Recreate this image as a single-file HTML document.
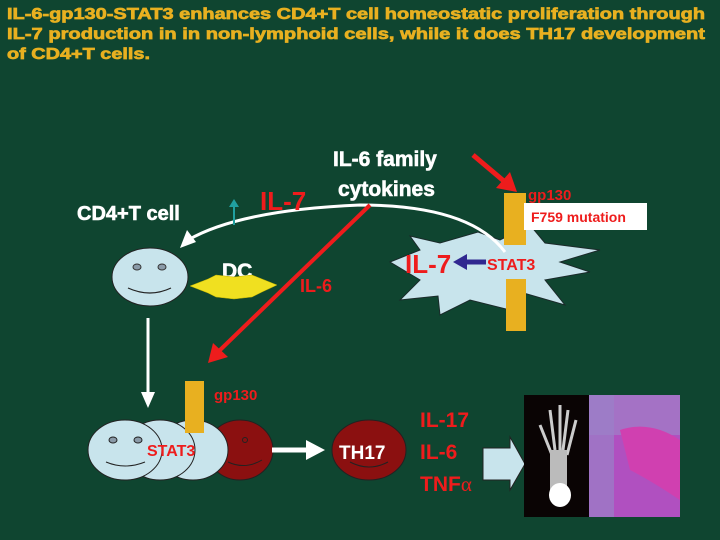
<!DOCTYPE html>
<html><head><meta charset="utf-8"><style>
html,body{margin:0;padding:0;background:#0f4530;}
svg{display:block;}
text{font-family:"Liberation Sans",Arial,sans-serif;font-weight:700;}
</style></head><body>
<svg width="720" height="540" viewBox="0 0 720 540" xmlns="http://www.w3.org/2000/svg">
<rect width="720" height="540" fill="#0f4530"/>
<g fill="#e8b020" stroke="#e8b020" stroke-width="0.7" font-size="16">
<text x="7" y="19" textLength="698" lengthAdjust="spacingAndGlyphs">IL-6-gp130-STAT3 enhances CD4+T cell homeostatic proliferation through</text>
<text x="7" y="39" textLength="698" lengthAdjust="spacingAndGlyphs">IL-7 production in  in non-lymphoid cells, while it does TH17 development</text>
<text x="7" y="59" textLength="143" lengthAdjust="spacingAndGlyphs">of CD4+T cells.</text>
</g>
<polygon fill="#c8e4ec" stroke="#1a2a2a" stroke-width="1" points="390,262 420,250 410,236 440,243 478,232 500,240 530,225 545,243 600,250 560,262 590,272 545,280 565,305 520,292 510,310 470,300 440,315 438,296 400,300 420,280"/>
<rect x="504" y="193" width="22" height="52" fill="#e8b020"/>
<rect x="506" y="279" width="20" height="52" fill="#e8b020"/>
<path d="M505,252 Q470,205 360,205 Q240,210 188,240" fill="none" stroke="#fff" stroke-width="3"/>
<polygon points="180,248 187,230 196,242" fill="#fff"/>
<g fill="#fff" stroke="#fff" stroke-width="0.6" font-size="21">
<text x="333" y="166">IL-6 family</text>
<text x="338" y="196">cytokines</text>
<text x="77" y="220" font-size="20">CD4+T cell</text>
<text x="222" y="278" font-size="21">DC</text>
</g>
<line x1="234" y1="225" x2="234" y2="204" stroke="#20a0a0" stroke-width="2"/>
<polygon points="229,207 234,199 239,207" fill="#20a0a0"/>
<text x="260" y="210" fill="#ee1c1c" font-size="26">IL-7</text>
<line x1="473" y1="155" x2="505" y2="182" stroke="#ee1c1c" stroke-width="5"/>
<polygon points="496,188 517,192 510,172" fill="#ee1c1c"/>
<text x="528" y="200" fill="#ee1c1c" font-size="15">gp130</text>
<rect x="524" y="203" width="123" height="27" fill="#fff"/>
<text x="531" y="222" fill="#ee1c1c" font-size="14">F759 mutation</text>
<text x="405" y="273" fill="#ee1c1c" font-size="26">IL-7</text>
<line x1="486" y1="262" x2="465" y2="262" stroke="#302890" stroke-width="5"/>
<polygon points="453,262 467,254 467,270" fill="#302890"/>
<text x="487" y="270" fill="#ee1c1c" font-size="16">STAT3</text>
<ellipse cx="150" cy="277" rx="38" ry="29" fill="#c8e4ec" stroke="#222" stroke-width="1"/>
<ellipse cx="137" cy="267" rx="4" ry="3" fill="#8a9aa8" stroke="#333"/>
<ellipse cx="162" cy="267" rx="4" ry="3" fill="#8a9aa8" stroke="#333"/>
<path d="M128,288 Q150,298 171,288" fill="none" stroke="#222" stroke-width="1.2"/>
<polygon fill="#f0e020" points="190,286 208,279 216,275 234,277 252,275 262,279 277,285 262,292 252,297 234,299 216,297 208,293" stroke="#c0b000" stroke-width="0.5"/>
<line x1="370" y1="205" x2="218" y2="352" stroke="#ee1c1c" stroke-width="4"/>
<polygon points="208,363 213,343 228,357" fill="#ee1c1c"/>
<text x="300" y="292" fill="#ee1c1c" font-size="18">IL-6</text>
<line x1="148" y1="318" x2="148" y2="395" stroke="#fff" stroke-width="3"/>
<polygon points="141,392 148,408 155,392" fill="#fff"/>
<g stroke="#222" stroke-width="1">
<ellipse cx="240" cy="450" rx="33" ry="30" fill="#8b1010"/>
<circle cx="245" cy="440" r="2.5" fill="#8b1010"/>
<ellipse cx="193" cy="450" rx="35" ry="30" fill="#c8e4ec"/>
<ellipse cx="160" cy="450" rx="35" ry="30" fill="#c8e4ec"/>
<ellipse cx="125" cy="450" rx="37" ry="30" fill="#c8e4ec"/>
<ellipse cx="113" cy="440" rx="4" ry="3" fill="#8a9aa8"/>
<ellipse cx="138" cy="440" rx="4" ry="3" fill="#8a9aa8"/>
</g>
<path d="M106,462 Q125,470 145,462" fill="none" stroke="#222"/>
<path d="M228,462 Q245,470 262,460" fill="none" stroke="#222"/>
<rect x="185" y="381" width="19" height="52" fill="#e8b020"/>
<text x="214" y="400" fill="#ee1c1c" font-size="15">gp130</text>
<text x="147" y="456" fill="#ee1c1c" font-size="16">STAT3</text>
<line x1="272" y1="450" x2="310" y2="450" stroke="#fff" stroke-width="5"/>
<polygon points="306,440 325,450 306,460" fill="#fff"/>
<ellipse cx="369" cy="450" rx="37" ry="30" fill="#8b1010" stroke="#222"/>
<path d="M350,462 Q369,472 388,462" fill="none" stroke="#222"/>
<text x="339" y="459" fill="#fff" font-size="19">TH17</text>
<g fill="#ee1c1c" font-size="21">
<text x="420" y="427">IL-17</text>
<text x="420" y="459">IL-6</text>
<text x="420" y="491">TNF<tspan style="font-family:'Liberation Serif',serif;font-weight:400">α</tspan></text>
</g>
<polygon points="483,448 510,448 510,437 525,464 510,490 510,480 483,480" fill="#c8e4ec" stroke="#222"/>
<rect x="524" y="395" width="65" height="122" fill="#0a0404"/>
<path d="M550,410 L555,450 M560,405 L560,450 M568,410 L563,450 M576,420 L567,455 M540,425 L552,455" stroke="#ccc" stroke-width="3"/>
<rect x="550" y="450" width="17" height="40" fill="#bbb"/>
<ellipse cx="560" cy="495" rx="11" ry="12" fill="#fff"/>
<rect x="589" y="395" width="91" height="122" fill="#b050c0"/>
<rect x="589" y="395" width="91" height="40" fill="#a080c8" opacity="0.7"/>
<path d="M620,430 Q650,420 680,440 L680,500 Q650,480 630,470 Z" fill="#d040b0"/>
<rect x="589" y="395" width="25" height="122" fill="#9a80c8" opacity="0.7"/>
</svg>
</body></html>
